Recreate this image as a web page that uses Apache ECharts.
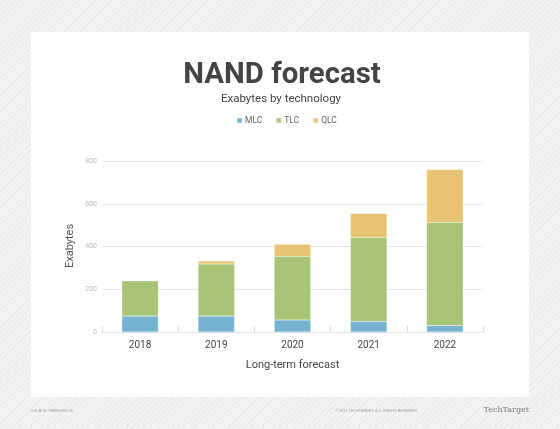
<!DOCTYPE html>
<html>
<head>
<meta charset="utf-8">
<script src="https://cdn.jsdelivr.net/npm/echarts@6/dist/echarts.min.js"></script>
<style>
  html, body {
    margin: 0;
    padding: 0;
  }
  body {
    width: 560px;
    height: 429px;
    position: relative;
    overflow: hidden;
    background: repeating-linear-gradient(135deg, #f3f3f3 0px, #f3f3f3 3px, #ebebeb 3px, #ebebeb 4px);
  }
  .panel {
    position: absolute;
    left: 31px;
    top: 32px;
    width: 498px;
    height: 365px;
    background: #fff;
  }
  #chart {
    position: absolute;
    left: 0;
    top: 0;
    width: 560px;
    height: 429px;
  }
</style>
</head>
<body>
<div class="panel"></div>
<div id="chart"></div>
<script>
// Data
const years = ['2018', '2019', '2020', '2021', '2022']
const mlc = [75, 75, 56, 50, 30]
const tlc = [165, 243, 298, 393, 483]
const qlc = [0, 14, 56, 111, 247]
const yTicks = [0, 200, 400, 600, 800]

const colors = {
  mlc: '#75b3d1',
  tlc: '#a8c476',
  qlc: '#e8c372'
}

const barSeries = (name, data, color) => ({
  name: name,
  type: 'bar',
  stack: 'total',
  barWidth: '48%',
  data: data,
  itemStyle: {
    color: color,
    borderColor: 'rgba(255,255,255,0.3)',
    borderWidth: 0.5
  }
})

const chart = echarts.init(document.getElementById('chart'))

chart.setOption({
  backgroundColor: 'transparent',
  animation: false,
  legend: {
    top: 111,
    left: 231,
    icon: 'rect',
    itemWidth: 5,
    itemHeight: 5,
    itemGap: 13,
    textStyle: {
      fontSize: 8.5,
      color: '#666',
      fontFamily: 'Roboto',
      padding: [0, 0, 0, -2]
    },
    data: ['MLC', 'TLC', 'QLC']
  },
  grid: {
    left: 102,
    right: 77,
    top: 161,
    bottom: 97
  },
  xAxis: {
    type: 'category',
    data: years,
    name: 'Long-term forecast',
    nameLocation: 'middle',
    nameGap: 28,
    nameTextStyle: {
      fontFamily: 'Roboto',
      fontSize: 11,
      color: '#444'
    },
    axisLine: {
      lineStyle: { color: '#e3e3e3', width: 1 }
    },
    axisTick: {
      show: true,
      inside: true,
      length: 6,
      lineStyle: { color: '#dcdcdc' }
    },
    axisLabel: {
      margin: 8,
      fontFamily: 'Roboto',
      fontSize: 10,
      color: '#444'
    }
  },
  yAxis: {
    type: 'value',
    min: yTicks[0],
    max: yTicks[yTicks.length - 1],
    interval: 200,
    axisLine: { show: false },
    axisTick: { show: false },
    axisLabel: {
      margin: 5,
      fontSize: 7,
      color: '#bbb',
      fontFamily: 'Roboto'
    },
    splitLine: {
      lineStyle: { color: '#e6e6e6', width: 1 }
    }
  },
  series: [
    barSeries('MLC', mlc, colors.mlc),
    barSeries('TLC', tlc, colors.tlc),
    barSeries('QLC', qlc, colors.qlc)
  ],
  graphic: [
    {
      // condensed heavy title
      type: 'text',
      x: 282,
      y: 75,
      scaleX: 0.98,
      style: {
        text: 'NAND forecast',
        align: 'center',
        verticalAlign: 'middle',
        fontFamily: 'Roboto',
        fontWeight: 'bold',
        fontSize: 30,
        fill: '#444'
      }
    },
    {
      type: 'text',
      x: 281,
      y: 99,
      style: {
        text: 'Exabytes by technology',
        align: 'center',
        verticalAlign: 'middle',
        fontFamily: 'Roboto',
        fontSize: 11.5,
        fill: '#444'
      }
    },
    {
      // y axis title
      type: 'text',
      x: 70.5,
      y: 246,
      rotation: Math.PI / 2,
      style: {
        text: 'Exabytes',
        align: 'center',
        verticalAlign: 'middle',
        fontFamily: 'Roboto',
        fontSize: 11,
        fill: '#555'
      }
    },
    {
      type: 'text',
      left: 31,
      top: 409,
      style: {
        text: 'SOURCE: TRENDFOCUS',
        fontSize: 4,
        fill: '#999',
        fontFamily: 'Roboto'
      }
    },
    {
      type: 'text',
      right: 143,
      top: 409,
      style: {
        text: '©2021 TECHTARGET. ALL RIGHTS RESERVED',
        fontSize: 4,
        fill: '#999',
        fontFamily: 'Roboto'
      }
    },
    {
      type: 'text',
      right: 31,
      top: 406,
      style: {
        text: 'TechTarget',
        fontSize: 8,
        fill: '#777',
        fontFamily: 'DejaVu Serif'
      }
    }
  ]
})

window.addEventListener('resize', () => chart.resize())
</script>
</body>
</html>
